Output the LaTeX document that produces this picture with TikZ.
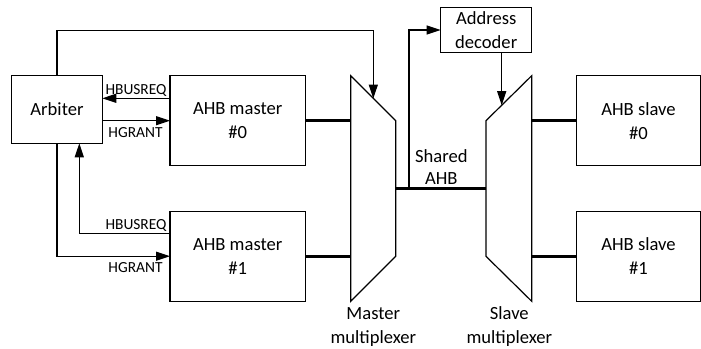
\documentclass[tikz,border=0pt]{standalone}
\usepackage{fontspec}
\setmainfont{Carlito}
\usetikzlibrary{arrows.meta}
\begin{document}
\begin{tikzpicture}[x=1pt,y=-1pt,line width=1.2pt,
  box/.style={draw,line width=1.2pt,inner sep=0pt,outer sep=0pt,align=center,
    font=\fontsize{18.6}{24}\selectfont},
  arr/.style={-{Triangle[length=14pt,width=9pt]}},
  bus/.style={line width=3.3pt},
  sig/.style={font=\fontsize{15.4}{18}\selectfont,inner sep=0pt,anchor=base},
  captext/.style={font=\fontsize{18.6}{24}\selectfont,inner sep=0pt,align=center}]
\useasboundingbox (0,0) rectangle (701,348);
% boxes
\node[box,minimum width=90.6pt,minimum height=67.6pt] (arb) at (57,109.5) {Arbiter};
\node[box,minimum width=135.3pt,minimum height=90pt] (m0) at (237.7,120.7) {AHB master\\\#0};
\node[box,minimum width=135.3pt,minimum height=90pt] (m1) at (237.7,256.2) {AHB master\\\#1};
\node[box,minimum width=123.6pt,minimum height=90pt] (s0) at (638.5,120.7) {AHB slave\\\#0};
\node[box,minimum width=123.6pt,minimum height=90pt] (s1) at (638.5,256.2) {AHB slave\\\#1};
\node[box,minimum width=91pt,minimum height=45.4pt,font=\fontsize{18.6}{23.3}\selectfont] (dec) at (486.2,30) {Address\\decoder};
% multiplexers
\coordinate (mmA) at (350.7,75.7);
\coordinate (mmB) at (395.7,120.7);
\coordinate (mmC) at (395.7,256.3);
\coordinate (mmD) at (350.7,301.3);
\draw (mmA) -- (mmB) -- (mmC) -- (mmD) -- cycle;
\coordinate (smA) at (486,120.7);
\coordinate (smB) at (531.7,75.7);
\coordinate (smC) at (531.7,301.3);
\coordinate (smD) at (486,256.3);
\draw (smA) -- (smB) -- (smC) -- (smD) -- cycle;
% bus connections
\draw[bus] (m0.east) -- (m0.east -| mmA);
\draw[bus] (m1.east) -- (m1.east -| mmA);
\coordinate (mmOut) at (395.7,188.7);
\coordinate (smIn) at (486,188.7);
\draw[bus] (mmOut) -- (smIn);
\draw[bus] (s0.west -| smB) -- (s0.west);
\draw[bus] (s1.west -| smB) -- (s1.west);
% arbiter signals
\draw[arr] (m0.west |- 0,98.3) -- (arb.east |- 0,98.3);
\draw[arr] (arb.east |- m0.west) -- (m0.west);
\coordinate (reqUp) at (79.3,233.3);
\draw[arr] (m1.west |- reqUp) -- (reqUp) -- (reqUp |- arb.south);
\draw[arr] (arb.south) |- (m1.west);
% arbiter to master multiplexer select
\coordinate (mmSel) at (373.3,98.6);
\coordinate (topY) at (0,30.7);
\draw[arr] (arb.north) -- (arb.north |- topY) -- (mmSel |- topY) -- (mmSel);
% shared bus to address decoder
\coordinate (tap) at (409,188.7);
\draw[arr] (tap) -- (tap |- dec.west) -- (dec.west);
\coordinate (smSel) at (501.7,105.2);
\draw[arr] (dec.south -| smSel) -- (smSel);
% labels
\node[sig] (l1) at (136,94.3) {HBUSREQ};
\node[sig] (l2) at (135.5,137.7) {HGRANT};
\node[sig] (l3) at (136,229.3) {HBUSREQ};
\node[sig] (l4) at (135.5,272.7) {HGRANT};
\node[captext,font=\fontsize{18.6}{22.4}\selectfont] (sh) at (441.3,167) {Shared\\AHB};
\node[captext] (mml) at (373.3,327) {Master\\multiplexer};
\node[captext] (sml) at (509.3,327) {Slave\\multiplexer};
\end{tikzpicture}
\end{document}
